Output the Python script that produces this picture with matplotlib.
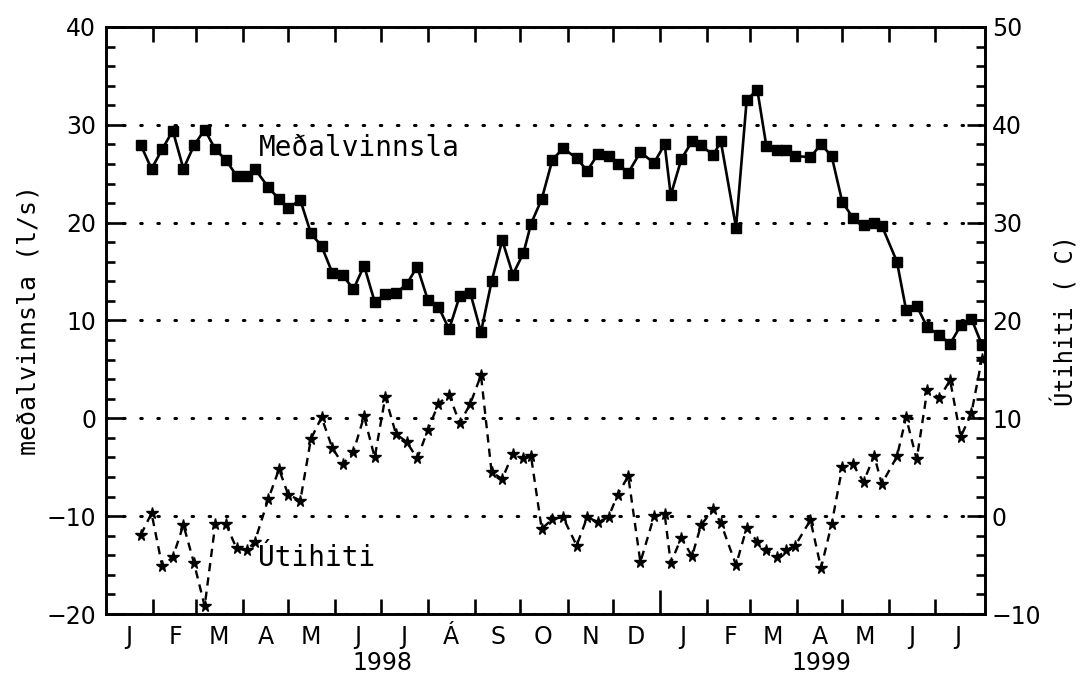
#!/usr/bin/env python3
"""
Weekly mean production (Meðalvinnsla, l/s) and outdoor temperature
(Útihiti, C) from Jan 1998 to Jul 1999, two y axes.
"""
import pandas as pd
import matplotlib
matplotlib.use("Agg")
import matplotlib.pyplot as plt
from matplotlib.ticker import MultipleLocator, NullFormatter

dates = [
    "1998-01-24", "1998-01-31", "1998-02-07", "1998-02-14", "1998-02-21",
    "1998-02-28", "1998-03-07", "1998-03-14", "1998-03-21", "1998-03-28",
    "1998-04-04", "1998-04-09", "1998-04-18", "1998-04-25", "1998-05-01",
    "1998-05-09", "1998-05-16", "1998-05-23", "1998-05-30", "1998-06-06",
    "1998-06-13", "1998-06-20", "1998-06-27", "1998-07-04", "1998-07-11",
    "1998-07-18", "1998-07-25", "1998-08-01", "1998-08-08", "1998-08-15",
    "1998-08-22", "1998-08-29", "1998-09-05", "1998-09-12", "1998-09-19",
    "1998-09-26", "1998-10-03", "1998-10-08", "1998-10-15", "1998-10-22",
    "1998-10-29", "1998-11-07", "1998-11-14", "1998-11-21", "1998-11-28",
    "1998-12-04", "1998-12-11", "1998-12-19", "1998-12-28", "1999-01-04",
    "1999-01-08", "1999-01-15", "1999-01-22", "1999-01-28", "1999-02-05",
    "1999-02-10", "1999-02-20", "1999-02-27", "1999-03-06", "1999-03-12",
    "1999-03-19", "1999-03-25", "1999-03-31", "1999-04-10", "1999-04-17",
    "1999-04-24", "1999-05-01", "1999-05-08", "1999-05-15", "1999-05-22",
    "1999-05-27", "1999-06-06", "1999-06-12", "1999-06-19", "1999-06-26",
    "1999-07-04", "1999-07-11", "1999-07-18", "1999-07-25", "1999-08-01",
]

# l/s, left axis
medalvinnsla = [
    27.9, 25.5, 27.5, 29.4, 25.5, 27.9, 29.5, 27.5, 26.4, 24.8,
    24.8, 25.5, 23.6, 22.4, 21.5, 22.3, 18.9, 17.6, 14.9, 14.6,
    13.2, 15.6, 11.9, 12.7, 12.8, 13.7, 15.5, 12.1, 11.4, 9.1,
    12.5, 12.8, 8.8, 14.0, 18.2, 14.7, 16.9, 19.9, 22.4, 26.4,
    27.6, 26.6, 25.3, 27.0, 26.8, 26.0, 25.1, 27.2, 26.1, 28.0,
    22.8, 26.5, 28.3, 27.9, 26.9, 28.3, 19.5, 32.5, 33.6, 27.8,
    27.4, 27.4, 26.8, 26.7, 28.0, 26.8, 22.1, 20.5, 19.8, 20.0,
    19.7, 16.0, 11.1, 11.5, 9.3, 8.5, 7.6, 9.5, 10.2, 7.5,
]

# deg C, right axis
utihiti = [
    -1.9, 0.3, -5.1, -4.2, -0.9, -4.8, -9.2, -0.8, -0.8, -3.3,
    -3.5, -2.6, 1.8, 4.8, 2.2, 1.6, 7.9, 10.1, 7.0, 5.3,
    6.6, 10.2, 6.0, 12.2, 8.4, 7.6, 5.9, 8.8, 11.5, 12.4,
    9.5, 11.5, 14.4, 4.5, 3.8, 6.4, 5.9, 6.1, -1.3, -0.3,
    -0.1, -3.0, -0.1, -0.6, -0.1, 2.2, 4.1, -4.7, 0.0, 0.2,
    -4.8, -2.2, -4.1, -0.9, 0.7, -0.7, -5.0, -1.2, -2.6, -3.5,
    -4.2, -3.5, -3.0, -0.4, -5.3, -0.8, 5.0, 5.3, 3.5, 6.2,
    3.3, 6.1, 10.1, 5.8, 12.9, 12.1, 13.9, 8.1, 10.5, 16.1,
]

month_labels = ["J", "F", "M", "A", "M", "J", "J", "Á", "S", "O", "N", "D",
                "J", "F", "M", "A", "M", "J", "J"]
year_labels = ["1998", "1999"]

SANS = "DejaVu Sans"
MONO = "DejaVu Sans Mono"


def main():
    t = pd.to_datetime(dates)
    x_start = pd.Timestamp("1998-01-01")
    x_end = pd.Timestamp("1999-08-03")
    month_starts = pd.date_range("1998-02-01", "1999-07-01", freq="MS")
    month_mids = pd.date_range("1998-01-01", "1999-07-01", freq="MS") + pd.Timedelta(days=15)

    fig = plt.figure(figsize=(10.86, 6.74), dpi=100)
    ax = fig.add_axes([0.0976, 0.089, 0.8094, 0.871])
    ax2 = ax.twinx()

    ax2.plot(t, utihiti, color="black", lw=1.7, linestyle=(0, (3.5, 2.6)),
             marker="*", ms=8.5, zorder=3)
    ax.plot(t, medalvinnsla, color="black", lw=1.9, marker="s", ms=6.5, zorder=3)

    ax.set_xlim(x_start, x_end)
    ax.set_ylim(-20, 40)
    ax2.set_ylim(-10, 50)

    # dotted horizontal reference lines
    ax.yaxis.grid(True, which="major", color="black", lw=2.2,
                  linestyle=(0, (0.5, 5.1)), dash_capstyle="round")

    for a in (ax, ax2):
        a.yaxis.set_major_locator(MultipleLocator(10))
        a.yaxis.set_minor_locator(MultipleLocator(2))
        for s in a.spines.values():
            s.set_linewidth(1.9)
    ax.tick_params(axis="y", which="major", direction="in", length=13, width=1.9,
                   labelsize=17, pad=7)
    ax.tick_params(axis="y", which="minor", direction="in", length=6.5, width=1.9)
    ax2.tick_params(axis="y", which="major", direction="in", length=13, width=1.9,
                    labelsize=17, pad=5)
    ax2.tick_params(axis="y", which="minor", direction="in", length=6.5, width=1.9)

    # month boundaries as ticks, month letters centred between them
    ax.set_xticks(month_starts)
    ax.xaxis.set_major_formatter(NullFormatter())
    ax.set_xticks(month_mids, minor=True)
    ax.set_xticklabels(month_labels, minor=True, fontsize=17, family=SANS)
    ax.tick_params(axis="x", which="major", direction="in", length=11, width=1.9,
                   top=True)
    ax.tick_params(axis="x", which="minor", length=0, pad=8)
    ticks = ax.xaxis.get_major_ticks()
    ticks[11].tick1line.set_markersize(17)

    for lab in ax.get_yticklabels() + ax2.get_yticklabels():
        lab.set_family(SANS)

    # year labels centred under each year's span
    year_mid = [pd.Timestamp("1998-07-02"), pd.Timestamp("1999-04-17")]
    for xm, yl in zip(year_mid, year_labels):
        ax.annotate(yl, xy=(xm, -0.083), xycoords=("data", "axes fraction"),
                    ha="center", va="center", fontsize=17, family=SANS)

    fig.text(0.026, 0.525, "meðalvinnsla (l/s)", fontsize=18, family=MONO,
             rotation=90, ha="center", va="center")
    fig.text(0.981, 0.525, "Útihiti ( C)", fontsize=17, family=MONO,
             rotation=90, ha="center", va="center")

    ax.text(pd.Timestamp("1998-04-12"), 27.6, "Meðalvinnsla", fontsize=20,
            family=MONO, ha="left", va="center")
    ax.text(pd.Timestamp("1998-04-11"), -14.3, "Útihiti", fontsize=20,
            family=MONO, ha="left", va="center")

    fig.savefig("out.png", dpi=100)
    plt.close(fig)


if __name__ == "__main__":
    main()
